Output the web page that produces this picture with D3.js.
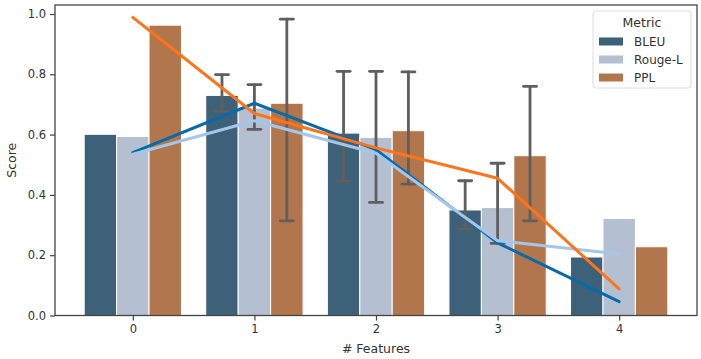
<!DOCTYPE html>
<html>
<head>
<meta charset="utf-8">
<script src="https://cdn.jsdelivr.net/npm/d3@7"></script>
<style>
  body { margin: 0; background: #fff; }
  text { font-family: "DejaVu Sans", sans-serif; fill: #333; }
</style>
</head>
<body>
<script>
var features = ['0', '1', '2', '3', '4'],
    metrics  = ['BLEU', 'Rouge-L', 'PPL'],
    yTicks   = [0, 0.2, 0.4, 0.6, 0.8, 1.0];

// bar heights per metric
var bleu  = [0.601, 0.730, 0.605, 0.350, 0.194],
    rouge = [0.594, 0.688, 0.591, 0.358, 0.322],
    ppl   = [0.963, 0.704, 0.613, 0.530, 0.228];

// error bar extents (null = none)
var bleuLo  = [null, 0.677, 0.446, 0.287, null],
    bleuHi  = [null, 0.799, 0.810, 0.447, null],
    rougeLo = [null, 0.617, 0.375, 0.239, null],
    rougeHi = [null, 0.766, 0.810, 0.505, null],
    pplLo   = [null, 0.314, 0.436, 0.314, null],
    pplHi   = [null, 0.983, 0.808, 0.760, null];

// overlay lines
var lineBleu  = [0.540, 0.704, 0.550, 0.241, 0.046],
    lineRouge = [0.535, 0.646, 0.538, 0.248, 0.204],
    linePpl   = [0.989, 0.670, 0.556, 0.455, 0.088];

var barColors  = ['#3d6179', '#b4c0d1', '#b2764c'],
    lineColors = ['#0a6aa8', '#a4c6ea', '#ff7419'];

var width = 701, height = 359,
    margin = {top: 5, right: 4, bottom: 44, left: 55};

var svg = d3.select('body').append('svg')
    .attr('width', width).attr('height', height);

var x = d3.scaleLinear()
    .domain([-0.64, 4.64])
    .range([margin.left, width - margin.right]);

var y = d3.scaleLinear()
    .domain([0, 1])
    .range([315.5, 14]);

var bw = (x(1) - x(0)) * 0.8 / 3;

var series = [
  {name: 'BLEU', v: bleu, lo: bleuLo, hi: bleuHi},
  {name: 'Rouge-L', v: rouge, lo: rougeLo, hi: rougeHi},
  {name: 'PPL', v: ppl, lo: pplLo, hi: pplHi}
];

var g = svg.append('g');

series.forEach(function (s, si) {
  g.selectAll('.bar' + si)
    .data(s.v)
    .enter().append('rect')
    .attr('x', function (d, i) { return x(i) - 1.5 * bw + si * bw; })
    .attr('y', function (d) { return y(d); })
    .attr('width', bw)
    .attr('height', function (d) { return y(0) - y(d); })
    .attr('fill', barColors[si])
    .attr('stroke', '#fff')
    .attr('stroke-width', 1);
});

series.forEach(function (s, si) {
  s.v.forEach(function (d, i) {
    if (s.lo[i] == null) return;
    var cx = x(i) - bw + si * bw;
    var e = g.append('g').attr('stroke', '#5f5f5f').attr('stroke-width', 2.8)
      .attr('stroke-linecap', 'round');
    e.append('line').attr('x1', cx).attr('x2', cx)
      .attr('y1', y(s.lo[i])).attr('y2', y(s.hi[i]));
    e.append('line').attr('x1', cx - 6.5).attr('x2', cx + 6.5)
      .attr('y1', y(s.lo[i])).attr('y2', y(s.lo[i]));
    e.append('line').attr('x1', cx - 6.5).attr('x2', cx + 6.5)
      .attr('y1', y(s.hi[i])).attr('y2', y(s.hi[i]));
  });
});

var line = d3.line()
  .x(function (d, i) { return x(i); })
  .y(function (d) { return y(d); });

[lineBleu, lineRouge, linePpl].forEach(function (l, li) {
  g.append('path')
    .attr('d', line(l))
    .attr('fill', 'none')
    .attr('stroke', lineColors[li])
    .attr('stroke-width', 3)
    .attr('stroke-linecap', 'round')
    .attr('stroke-linejoin', 'round');
});

// frame
svg.append('rect')
  .attr('x', margin.left).attr('y', margin.top)
  .attr('width', width - margin.right - margin.left)
  .attr('height', y(0) - margin.top)
  .attr('fill', 'none').attr('stroke', '#444').attr('stroke-width', 1.3);

var xAxis = svg.append('g')
  .attr('transform', 'translate(0,' + y(0) + ')')
  .call(d3.axisBottom(x).tickValues([0, 1, 2, 3, 4])
    .tickFormat(function (d) { return features[d]; }).tickSize(5).tickPadding(4));

var yAxis = svg.append('g')
  .attr('transform', 'translate(' + margin.left + ',0)')
  .call(d3.axisLeft(y).tickValues(yTicks).tickFormat(d3.format('.1f')).tickSize(5).tickPadding(4));

[xAxis, yAxis].forEach(function (a) {
  a.select('.domain').remove();
  a.selectAll('line').attr('stroke', '#444').attr('stroke-width', 1.2);
  a.selectAll('text').attr('font-size', 11.5).attr('fill', '#333');
});

svg.append('text')
  .attr('x', x(2)).attr('y', 353)
  .attr('text-anchor', 'middle').attr('font-size', 12.5)
  .text('# Features');

svg.append('text')
  .attr('transform', 'translate(16,' + ((y(0) + margin.top) / 2) + ') rotate(-90)')
  .attr('text-anchor', 'middle').attr('font-size', 12.5)
  .text('Score');

// legend
var lg = svg.append('g').attr('transform', 'translate(593,11)');
lg.append('rect')
  .attr('width', 98).attr('height', 77).attr('rx', 3)
  .attr('fill', '#fff').attr('fill-opacity', 0.8)
  .attr('stroke', '#ddd');
lg.append('text')
  .attr('x', 49).attr('y', 15.5).attr('text-anchor', 'middle')
  .attr('font-size', 12.5).text('Metric');
metrics.forEach(function (m, i) {
  lg.append('rect')
    .attr('x', 6).attr('y', 26.5 + i * 18)
    .attr('width', 24).attr('height', 8)
    .attr('fill', barColors[i]);
  lg.append('text')
    .attr('x', 41).attr('y', 35 + i * 18)
    .attr('font-size', 12).text(m);
});
</script>
</body>
</html>
